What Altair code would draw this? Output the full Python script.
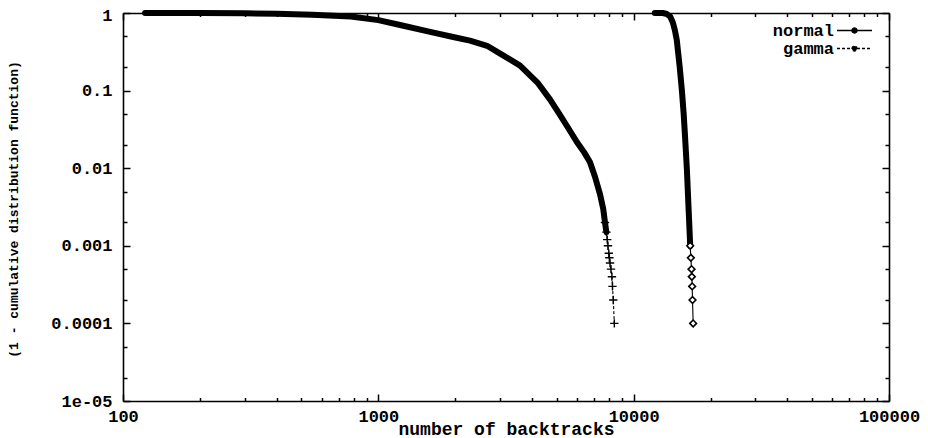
import json
import altair as alt
import pandas as pd

# ---- data ----
series_names = ["normal", "gamma"]

gamma_x = [122, 150, 200, 300, 400, 550, 780, 1000, 1217, 1596, 1963, 2285, 2666, 3000,
           3590, 4200, 4700, 5100, 5480, 6000, 6400, 6740, 7060, 7385, 7600, 7720, 7820, 7880, 7930,
           7990, 8030, 8080, 8150, 8220, 8260, 8320, 8400]
gamma_s = [1.0, 1.0, 0.998, 0.99, 0.975, 0.95, 0.9, 0.81, 0.70, 0.57, 0.49, 0.44, 0.378, 0.30,
           0.21, 0.127, 0.077, 0.051, 0.035, 0.0216, 0.016, 0.012, 0.0077, 0.0046, 0.003, 0.002, 0.0015, 0.0012, 0.001,
           0.0008, 0.0007, 0.0006, 0.0005, 0.0004, 0.0003, 0.0002, 0.0001]

normal_x = [12100, 12500, 13000, 13500, 13900, 14250, 14500, 14750, 14950, 15150,
            15450, 15700, 15900, 16150, 16300, 16500, 16650, 16750, 16850, 16900,
            16950, 17000, 17100]
normal_s = [1.0, 1.0, 1.0, 0.97, 0.9, 0.75, 0.6, 0.45, 0.3, 0.2,
            0.1, 0.05, 0.025, 0.01, 0.005, 0.002, 0.001, 0.0007, 0.0005, 0.0004,
            0.0003, 0.0002, 0.0001]

x_major = [100, 1000, 10000, 100000]
x_major_labels = ["100", "1000", "10000", "100000"]
x_ticks = [100, 200, 300, 400, 500, 600, 700, 800, 900,
           1000, 2000, 3000, 4000, 5000, 6000, 7000, 8000, 9000,
           10000, 20000, 30000, 40000, 50000, 60000, 70000, 80000, 90000, 100000]

y_major = [1, 0.1, 0.01, 0.001, 0.0001, 0.00001]
y_major_labels = ["1", "0.1", "0.01", "0.001", "0.0001", "1e-05"]
y_ticks = [1, 0.5, 0.2, 0.1, 0.05, 0.02, 0.01, 0.005, 0.002, 0.001,
           0.0005, 0.0002, 0.0001, 0.00005, 0.00002, 0.00001]

x_title = "number of backtracks"
y_title = "(1 - cumulative distribution function)"

df = pd.DataFrame({
    "series": ["gamma"] * len(gamma_x) + ["normal"] * len(normal_x),
    "x": gamma_x + normal_x,
    "s": gamma_s + normal_s,
})

W, H = 766, 388
FONT = "Liberation Mono"

xscale = alt.Scale(type="log", domain=[100, 100000], nice=False)
yscale = alt.Scale(type="log", domain=[0.00001, 1], nice=False)


def label_expr(vals, labs):
    return f"{json.dumps(labs)}[indexof({json.dumps(vals)}, datum.value)]"


def major_test(vals):
    return f"indexof({json.dumps(vals)}, datum.value) >= 0"


common_tick = dict(labels=False, grid=False, title=None, tickColor="black",
                   tickWidth=1.5, domainColor="black", domainWidth=1.6)

x_axis_main = alt.Axis(
    orient="bottom", values=x_major, labelExpr=label_expr(x_major, x_major_labels),
    ticks=False, tickSize=0, domain=True, domainColor="black", domainWidth=1.6,
    grid=False, labelFont=FONT, labelFontSize=17, labelFontWeight="bold",
    labelColor="black", labelPadding=7, labelBaseline="top", labelFlush=False,
    labelOverlap=False, title=x_title, titleFont=FONT, titleFontSize=18,
    titleFontWeight="bold", titleColor="black", titleY=33,
    titleBaseline="alphabetic")
x_axis_in_bottom = alt.Axis(
    orient="top", offset=-H, values=x_ticks, domain=False,
    tickSize={"condition": {"test": major_test(x_major), "value": 7}, "value": 3.5},
    **common_tick)
x_axis_in_top = alt.Axis(
    orient="bottom", offset=-H, values=x_ticks, domain=True,
    tickSize={"condition": {"test": major_test(x_major), "value": 7}, "value": 3.5},
    **common_tick)

y_axis_main = alt.Axis(
    orient="left", values=y_major, labelExpr=label_expr(y_major, y_major_labels),
    ticks=False, tickSize=0, domain=True, domainColor="black", domainWidth=1.6,
    grid=False, labelFont=FONT, labelFontSize=17, labelFontWeight="bold",
    labelColor="black", labelPadding=11, labelOverlap=False, labelFlush=False,
    labelOffset={"condition": {"test": "datum.value == 1", "value": 2}, "value": 0},
    title=y_title, titleFont=FONT, titleFontSize=13, titleFontWeight="bold",
    titleColor="black", titleX=-110, titleY=196, titleBaseline="middle",
    titleAngle=-90)
y_axis_in_left = alt.Axis(
    orient="right", offset=-W, values=y_ticks, domain=False,
    tickSize={"condition": {"test": major_test(y_major), "value": 7}, "value": 4},
    **common_tick)
y_axis_in_right = alt.Axis(
    orient="left", offset=-W, values=y_ticks, domain=True,
    tickSize={"condition": {"test": major_test(y_major), "value": 7}, "value": 4},
    **common_tick)

base = alt.Chart(df)

band = base.transform_filter(
    "(datum.series == 'gamma' && datum.s >= 0.0015) || (datum.series == 'normal' && datum.s >= 0.001)"
).mark_line(strokeWidth=6, color="black", strokeCap="round", strokeJoin="round").encode(
    x=alt.X("x:Q", scale=xscale, axis=x_axis_main),
    y=alt.Y("s:Q", scale=yscale, axis=y_axis_main),
    detail="series:N",
)

# key symbol: a short sample line with a marker on it (dash pattern from the scale)
key_path = "M-3.5,0H3.5M-0.5,0A0.5,0.5,0,1,1,0.5,0A0.5,0.5,0,1,1,-0.5,0Z"

thin = base.mark_line(strokeWidth=1.1, color="black").encode(
    x=alt.X("x:Q", scale=xscale, axis=x_axis_in_bottom),
    y=alt.Y("s:Q", scale=yscale, axis=y_axis_in_left),
    strokeDash=alt.StrokeDash(
        "series:N", scale=alt.Scale(domain=series_names, range=[[1, 0], [3, 2]]),
        legend=alt.Legend(title=None, orient="none", legendX=723, legendY=9, padding=0,
                          symbolType=key_path, symbolSize=100,
                          symbolFillColor="black", symbolStrokeColor="black",
                          symbolStrokeWidth=1.4, labelAlign="right",
                          labelOffset={"expr": "-29"}, labelFont=FONT, labelFontSize=17,
                          labelFontWeight="bold", labelColor="black", rowPadding=0,
                          labelBaseline="middle")),
)

plus_path = "M-1,0H1M0,-1V1"
gamma_pts = base.transform_filter(
    "datum.series == 'gamma' && datum.s <= 0.002"
).mark_point(shape=plus_path, size=70, strokeWidth=1.4, color="black", filled=False, opacity=1).encode(
    x=alt.X("x:Q", scale=xscale, axis=x_axis_in_top),
    y=alt.Y("s:Q", scale=yscale, axis=y_axis_in_right),
)

normal_pts = base.transform_filter(
    "datum.series == 'normal' && datum.s <= 0.001"
).mark_point(shape="diamond", size=45, strokeWidth=1.6, color="black", fill="white", filled=False, opacity=1).encode(
    x=alt.X("x:Q", scale=xscale, axis=None),
    y=alt.Y("s:Q", scale=yscale, axis=None),
)

chart = alt.layer(band, thin, gamma_pts, normal_pts).resolve_axis(
    x="independent", y="independent"
).properties(
    width=W, height=H,
    autosize=alt.AutoSizeParams(type="none"),
    padding={"left": 115, "top": 5, "right": 31, "bottom": 37},
).configure_view(stroke=None).configure(background="white")

chart.save("out.html", embed_options={"renderer": "svg", "actions": False})
